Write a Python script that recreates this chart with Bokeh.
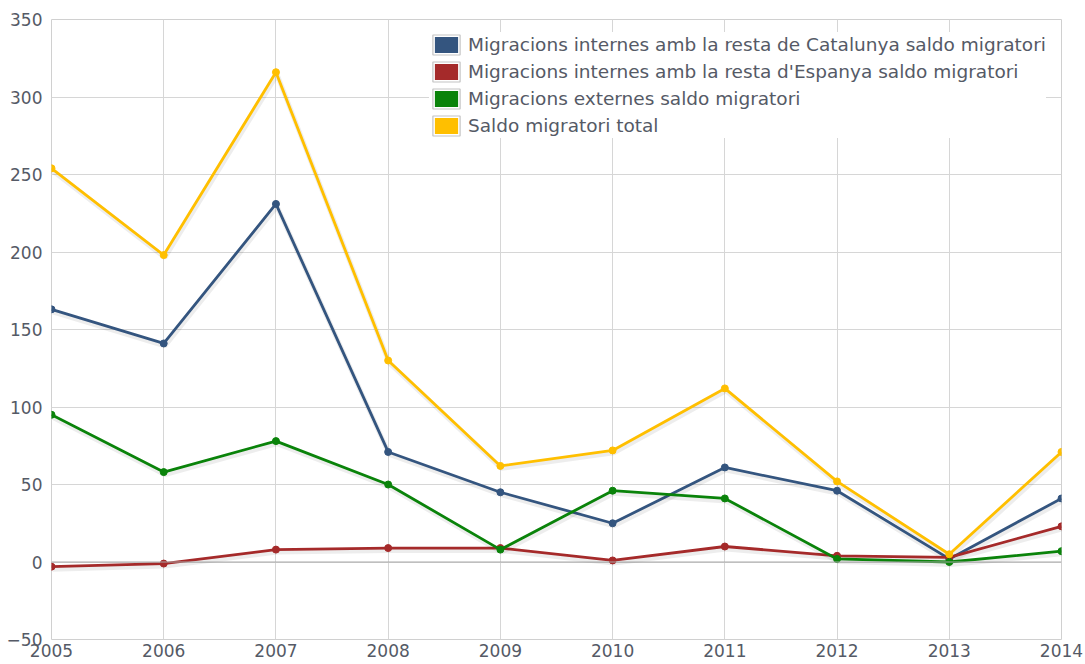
from bokeh.plotting import figure
from bokeh.models import Range1d, FixedTicker, Legend, LegendItem, Span, ColumnDataSource
from bokeh.embed import file_html
from bokeh.resources import INLINE

years = [2005, 2006, 2007, 2008, 2009, 2010, 2011, 2012, 2013, 2014]
catalunya = [163, 141, 231, 71, 45, 25, 61, 46, 2, 41]
espanya = [-3, -1, 8, 9, 9, 1, 10, 4, 3, 23]
externes = [95, 58, 78, 50, 8, 46, 41, 2, 0, 7]
total = [254, 198, 316, 130, 62, 72, 112, 52, 5, 71]

series_names = [
    "Migracions internes amb la resta de Catalunya saldo migratori",
    "Migracions internes amb la resta d'Espanya saldo migratori",
    "Migracions externes saldo migratori",
    "Saldo migratori total",
]
series_values = [catalunya, espanya, externes, total]
colors = ["#34557f", "#a52a2a", "#0a830a", "#ffbf00"]

y_ticks = [-50, 0, 50, 100, 150, 200, 250, 300, 350]

FONT = "DejaVu Sans"
TXT = "#555a66"

p = figure(width=1085, height=664, output_backend="svg", toolbar_location=None,
           x_range=Range1d(2005, 2014), y_range=Range1d(-50, 350),
           min_border_left=51, min_border_right=24, min_border_top=19, min_border_bottom=25)

# shadow ranges: shift drawings ~2px down/right in screen space
p.extra_y_ranges = {"shadow": Range1d(-50 + 1.6, 350 + 1.6)}
p.extra_x_ranges = {"shadow": Range1d(2005 - 0.01, 2014 - 0.01)}

p.background_fill_color = "white"
p.border_fill_color = "white"
p.outline_line_color = "#d0d0d0"

p.xaxis.ticker = FixedTicker(ticks=years)
p.yaxis.ticker = FixedTicker(ticks=y_ticks)
p.xgrid.ticker = FixedTicker(ticks=years)
p.ygrid.ticker = FixedTicker(ticks=y_ticks)
p.xgrid.grid_line_color = "#d6d6d6"
p.ygrid.grid_line_color = "#d6d6d6"

for ax in (p.xaxis, p.yaxis):
    ax.axis_line_color = None
    ax.major_tick_line_color = None
    ax.minor_tick_line_color = None
    ax.major_tick_out = 0
    ax.major_label_text_font = FONT
    ax.major_label_text_font_size = "17px"
    ax.major_label_text_color = TXT
p.xaxis.major_label_standoff = 4
p.yaxis.major_label_standoff = 9

p.add_layout(Span(location=0, dimension="width", line_color="#a8a8a8", line_width=1))

items = []
for name, vals, col in zip(series_names, series_values, colors):
    src = ColumnDataSource(dict(x=years, y=vals))
    p.line("x", "y", source=src, line_color="black", line_alpha=0.07, line_width=5,
           x_range_name="shadow", y_range_name="shadow")
    p.line("x", "y", source=src, line_color=col, line_width=2.8)
    p.scatter("x", "y", source=src, size=7, fill_color=col, line_color=col)
    # zero-area swatch renderers used only for the legend glyph
    fill_sw = p.quad(left=years[:1], right=years[:1], top=vals[:1], bottom=vals[:1],
                     fill_color=col, line_color="white", line_width=4)
    edge_sw = p.quad(left=years[:1], right=years[:1], top=vals[:1], bottom=vals[:1],
                     fill_color=None, line_color="#c4c4c4", line_width=1.2)
    items.append(LegendItem(label=name, renderers=[fill_sw, edge_sw]))

legend = Legend(items=items, location=(378, 501), orientation="vertical",
                glyph_width=34, glyph_height=25, label_height=25, spacing=2,
                padding=6, margin=0, label_standoff=5,
                label_text_font=FONT, label_text_font_size="18.5px", label_text_color=TXT,
                background_fill_color="white", background_fill_alpha=1.0,
                border_line_color=None)
p.add_layout(legend)

open("out.html", "w").write(file_html(p, INLINE))
